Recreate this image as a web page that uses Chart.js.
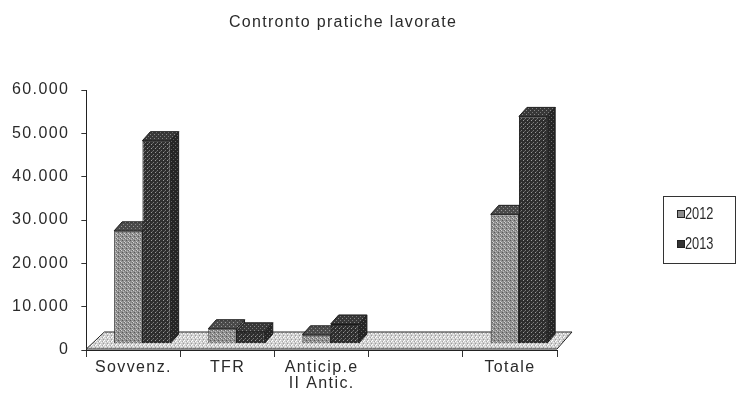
<!DOCTYPE html>
<html>
<head>
<meta charset="utf-8">
<script src="https://cdn.jsdelivr.net/npm/chart.js@4.4.1/dist/chart.umd.min.js"></script>
<style>
  html, body { margin: 0; padding: 0; background: #fff; }
  #wrap { position: relative; width: 736px; height: 401px; }
  #titolo { position: absolute; left: 229px; top: 14px; font: 16px/16px 'Liberation Sans', Arial, sans-serif; letter-spacing: 1.3px; color: #2a2a2a; white-space: nowrap; }
  #legenda { position: absolute; left: 663px; top: 196px; width: 71px; height: 66px; border: 1px solid #333; }
  .voce { position: absolute; left: 13px; font: 16px/16px 'Liberation Sans', Arial, sans-serif; color: #2a2a2a; white-space: nowrap; }
  .voce i { display: inline-block; width: 6px; height: 6px; border: 1px solid #222; margin-right: 0; vertical-align: 1px; }
  .voce span { display: inline-block; transform: scaleX(0.8); transform-origin: left center; }
</style>
</head>
<body>
<div id="wrap">
  <canvas id="chart_pratiche" width="736" height="401"></canvas>
  <div id="titolo">Contronto pratiche lavorate</div>
  <div id="legenda">
    <div class="voce" style="top:9px"><i style="background:#8c8c8c"></i><span>2012</span></div>
    <div class="voce" style="top:39px"><i style="background:#333"></i><span>2013</span></div>
  </div>
</div>
<script>
var categorie = ['Sovvenz.', 'TFR', ['Anticip.e', 'II Antic.'], '', 'Totale'];
var valori_2012 = [25200, 2600, 1200, null, 29000];
var valori_2013 = [46000, 1900, 3700, null, 51600];
var y_max = 60000;
var y_passo = 10000;

function pattern(base, dots){
  var c = document.createElement('canvas');
  c.width = 4; c.height = 4;
  var g = c.getContext('2d');
  g.fillStyle = base;
  g.fillRect(0, 0, 4, 4);
  dots.forEach(function (d) {
    g.fillStyle = d[2];
    g.fillRect(d[0], d[1], 1, 1);
  });
  return g.createPattern(c, 'repeat');
}

var facce = [
  {
    front: pattern('#8e8e8e', [[0,0,'#d2d2d2'],[2,1,'#bdbdbd'],[1,2,'#5a5a5a'],[3,3,'#cfcfcf'],[3,0,'#6a6a6a']]),
    top: pattern('#4a4a4a', [[0,0,'#9a9a9a'],[2,2,'#8a8a8a']]),
    side: pattern('#555555', [[1,1,'#8a8a8a'],[3,2,'#7a7a7a']])
  },
  {
    front: pattern('#2e2e2e', [[0,0,'#7a7a7a'],[2,2,'#9a9a9a'],[3,1,'#5e5e5e']]),
    top: pattern('#383838', [[1,0,'#888888'],[3,2,'#777777']]),
    side: pattern('#262626', [[0,1,'#5e5e5e'],[2,3,'#6a6a6a']])
  }
];
var pavimento = pattern('#d0d0d0', [[0,0,'#ffffff'],[2,1,'#a8a8a8'],[1,2,'#f2f2f2'],[3,3,'#9a9a9a'],[3,1,'#ffffff']]);

function formato(v){
  return String(v).replace(/\B(?=(\d{3})+(?!\d))/g, '.');
}

var spaziatura = {
  id: 'spaziatura',
  beforeLayout: function (chart) { chart.ctx.letterSpacing = '1.4px'; },
  beforeDraw: function (chart) { chart.ctx.letterSpacing = '1.4px'; }
};

var dx = 8, dy = -9;

var rilievo = {
  id: 'rilievo',
  beforeDatasetsDraw: function (chart) {
    var ctx = chart.ctx;
    var xs = chart.scales.x, ys = chart.scales.y;
    var y0 = ys.getPixelForValue(0) - 1;

    ctx.save();
    ctx.beginPath();
    ctx.moveTo(xs.left, y0);
    ctx.lineTo(xs.left + 18, y0 - 17);
    ctx.lineTo(xs.right + 15, y0 - 17);
    ctx.lineTo(xs.right, y0);
    ctx.closePath();
    ctx.fillStyle = pavimento;
    ctx.fill();
    ctx.strokeStyle = '#222';
    ctx.lineWidth = 1;
    ctx.stroke();

    ctx.translate(9, -10);
    ctx.strokeStyle = '#1e1e1e';
    for (var i = 0; i < categorie.length; i++) {
      chart.data.datasets.forEach(function (ds, d) {
        if (ds.data[i] == null) return;
        var el = chart.getDatasetMeta(d).data[i];
        var l = el.x - el.width / 2, r = el.x + el.width / 2;
        var t = el.y, b = el.base;

        ctx.beginPath();
        ctx.moveTo(r, t); ctx.lineTo(r + dx, t + dy);
        ctx.lineTo(r + dx, b + dy); ctx.lineTo(r, b);
        ctx.closePath();
        ctx.fillStyle = facce[d].side;
        ctx.fill(); ctx.stroke();

        ctx.beginPath();
        ctx.moveTo(l, t); ctx.lineTo(l + dx, t + dy);
        ctx.lineTo(r + dx, t + dy); ctx.lineTo(r, t);
        ctx.closePath();
        ctx.fillStyle = facce[d].top;
        ctx.fill(); ctx.stroke();

        el.draw(ctx);
      });
    }
    ctx.restore();
    return false;
  }
};

function load_chart_pratiche(){
  var chart_pratiche = document.getElementById('chart_pratiche').getContext('2d');

  var mychart = new Chart(chart_pratiche, {type: 'bar', data: {
    labels: categorie,
    datasets: [{
      label: '2012',
      data: valori_2012,
      base: -700,
      backgroundColor: facce[0].front,
      borderColor: '#222',
      borderWidth: 1
    }, {
      label: '2013',
      data: valori_2013,
      base: -700,
      backgroundColor: facce[1].front,
      borderColor: '#1a1a1a',
      borderWidth: 1
    }]
  }, options: {
    responsive: false,
    animation: false,
    layout: { padding: { top: 90, left: 0, right: 179, bottom: 6 } },
    datasets: { bar: { categoryPercentage: 0.6, barPercentage: 1 } },
    plugins: {
      legend: { display: false },
      title: { display: false },
      tooltip: { enabled: false }
    },
    scales: {
      x: {
        grid: { drawOnChartArea: false, tickLength: 7, color: '#333' },
        border: { color: '#222', width: 1 },
        ticks: {
          color: '#2a2a2a',
          padding: 3,
          maxRotation: 0,
          autoSkip: false,
          font: { family: 'Liberation Sans', size: 16, lineHeight: 1.0 }
        }
      },
      y: {
        min: 0,
        max: y_max,
        grid: { drawOnChartArea: false, tickLength: 5, color: '#333' },
        border: { color: '#222', width: 1 },
        ticks: {
          stepSize: y_passo,
          color: '#2a2a2a',
          padding: 12,
          font: { family: 'Liberation Sans', size: 16 },
          callback: function (v) { return formato(v); }
        }
      }
    }
  }, plugins: [spaziatura, rilievo]
  });
}

load_chart_pratiche();
</script>
</body>
</html>
